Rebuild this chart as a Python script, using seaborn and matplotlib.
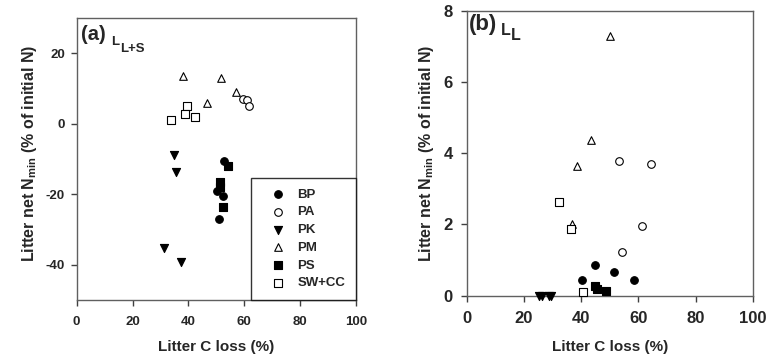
import pandas as pd
import matplotlib
matplotlib.use("Agg")
import matplotlib.pyplot as plt
import seaborn as sns

# данные панели (a): L L+S
a_groups = ["BP"] * 4 + ["PA"] * 3 + ["PK"] * 4 + ["PM"] * 4 + ["PS"] * 4 + ["SW+CC"] * 4
a_x = [52.9, 50.2, 52.5, 51.0,
       59.4, 60.9, 61.8,
       34.8, 35.6, 31.3, 37.4,
       37.9, 51.6, 46.5, 57.0,
       54.3, 51.3, 51.3, 52.5,
       33.9, 39.6, 38.9, 42.5]
a_y = [-10.6, -19.0, -20.4, -27.1,
       7.1, 6.6, 5.1,
       -8.9, -13.6, -35.2, -39.2,
       13.6, 12.9, 6.0, 9.1,
       -12.0, -16.5, -18.0, -23.7,
       1.2, 5.0, 2.9, 2.0]

# данные панели (b): L L
b_groups = ["BP"] * 4 + ["PA"] * 4 + ["PK"] * 4 + ["PM"] * 4 + ["PS"] * 3 + ["SW+CC"] * 3
b_x = [40.2, 45.0, 51.5, 58.6,
       53.4, 64.3, 61.4, 54.3,
       25.3, 26.2, 28.8, 29.6,
       50.1, 43.4, 38.6, 36.9,
       44.8, 45.5, 48.7,
       32.4, 36.6, 40.8]
b_y = [0.43, 0.86, 0.66, 0.44,
       3.78, 3.71, 1.97, 1.23,
       0.0, 0.0, 0.0, 0.0,
       7.29, 4.37, 3.64, 2.0,
       0.27, 0.2, 0.14,
       2.62, 1.86, 0.10]

df_a = pd.DataFrame({"group": a_groups, "x": a_x, "y": a_y})
df_b = pd.DataFrame({"group": b_groups, "x": b_x, "y": b_y})

# стиль маркеров: (маркер, заливка, размер)
styles = {
    "BP": ("o", "black", 30),
    "PA": ("o", "white", 30),
    "PK": ("v", "black", 34),
    "PM": ("^", "white", 30),
    "PS": ("s", "black", 26),
    "SW+CC": ("s", "white", 26),
}

sns.set_style("ticks")
plt.rcParams["font.family"] = ["Liberation Sans", "DejaVu Sans"]
plt.rcParams["font.weight"] = "bold"
plt.rcParams["axes.unicode_minus"] = False

fig = plt.figure(figsize=(7.76, 3.6), dpi=100)
ax1 = fig.add_axes([0.0988, 0.1667, 0.36, 0.7833])
ax2 = fig.add_axes([0.6014, 0.1786, 0.3686, 0.7917])

for ax, df, tsize, xpad, ypad in [(ax1, df_a, 9.5, 7.5, 4.5), (ax2, df_b, 12, 7, 6)]:
    for g, (m, fc, s) in styles.items():
        d = df[df["group"] == g]
        sns.scatterplot(data=d, x="x", y="y", ax=ax, marker=m, color=fc,
                        edgecolor="black", linewidth=0.8, s=s, label=g,
                        legend=(ax is ax1), zorder=3, clip_on=False)
    for sp in ax.spines.values():
        sp.set_color("#606060")
        sp.set_linewidth(1.0)
    ax.tick_params(axis="both", labelsize=tsize, length=4, width=1, color="#404040")
    ax.tick_params(axis="x", pad=xpad)
    ax.tick_params(axis="y", pad=ypad)
    ax.set_xlim(0, 100)
    ax.set_xticks([0, 20, 40, 60, 80, 100])
    ax.set_xlabel("Litter C loss (%)", fontsize=11, fontweight="bold")
    ax.set_ylabel(r"Litter net N$\mathregular{_{min}}$ (% of initial N)",
                  fontsize=11.5, fontweight="bold")

ax1.set_ylim(-50, 30)
ax1.set_yticks([-40, -20, 0, 20])
ax2.set_ylim(0, 8)
ax2.set_yticks([0, 2, 4, 6, 8])
for ax in (ax1, ax2):
    for lab in ax.get_xticklabels() + ax.get_yticklabels():
        lab.set_fontweight("bold")

ax1.xaxis.set_label_coords(0.5, -0.142)
ax2.xaxis.set_label_coords(0.5, -0.155)
ax1.yaxis.set_label_coords(-0.135, 0.52)
ax2.yaxis.set_label_coords(-0.108, 0.5)

# заголовки панелей
ax1.text(0.016, 0.975, "(a)", transform=ax1.transAxes, ha="left", va="top",
         fontsize=14.5, fontweight="bold")
ax1.text(0.125, 0.935, "L", transform=ax1.transAxes, ha="left", va="top",
         fontsize=9.5, fontweight="bold")
ax1.text(0.156, 0.913, "L+S", transform=ax1.transAxes, ha="left", va="top",
         fontsize=9.5, fontweight="bold")
ax2.text(0.008, 0.99, "(b)", transform=ax2.transAxes, ha="left", va="top",
         fontsize=16, fontweight="bold")
ax2.text(0.12, 0.958, "L", transform=ax2.transAxes, ha="left", va="top",
         fontsize=11.5, fontweight="bold")
ax2.text(0.155, 0.94, "L", transform=ax2.transAxes, ha="left", va="top",
         fontsize=11.5, fontweight="bold")

leg = ax1.legend(loc="lower right", bbox_to_anchor=(1, 0), borderaxespad=0,
                 frameon=True, fancybox=False, edgecolor="black",
                 prop={"weight": "bold", "size": 9.5}, borderpad=0.8,
                 labelspacing=0.42, handlelength=2.4, handletextpad=0.3)
leg.get_frame().set_linewidth(1.0)

plt.savefig("out.png", dpi=100)
